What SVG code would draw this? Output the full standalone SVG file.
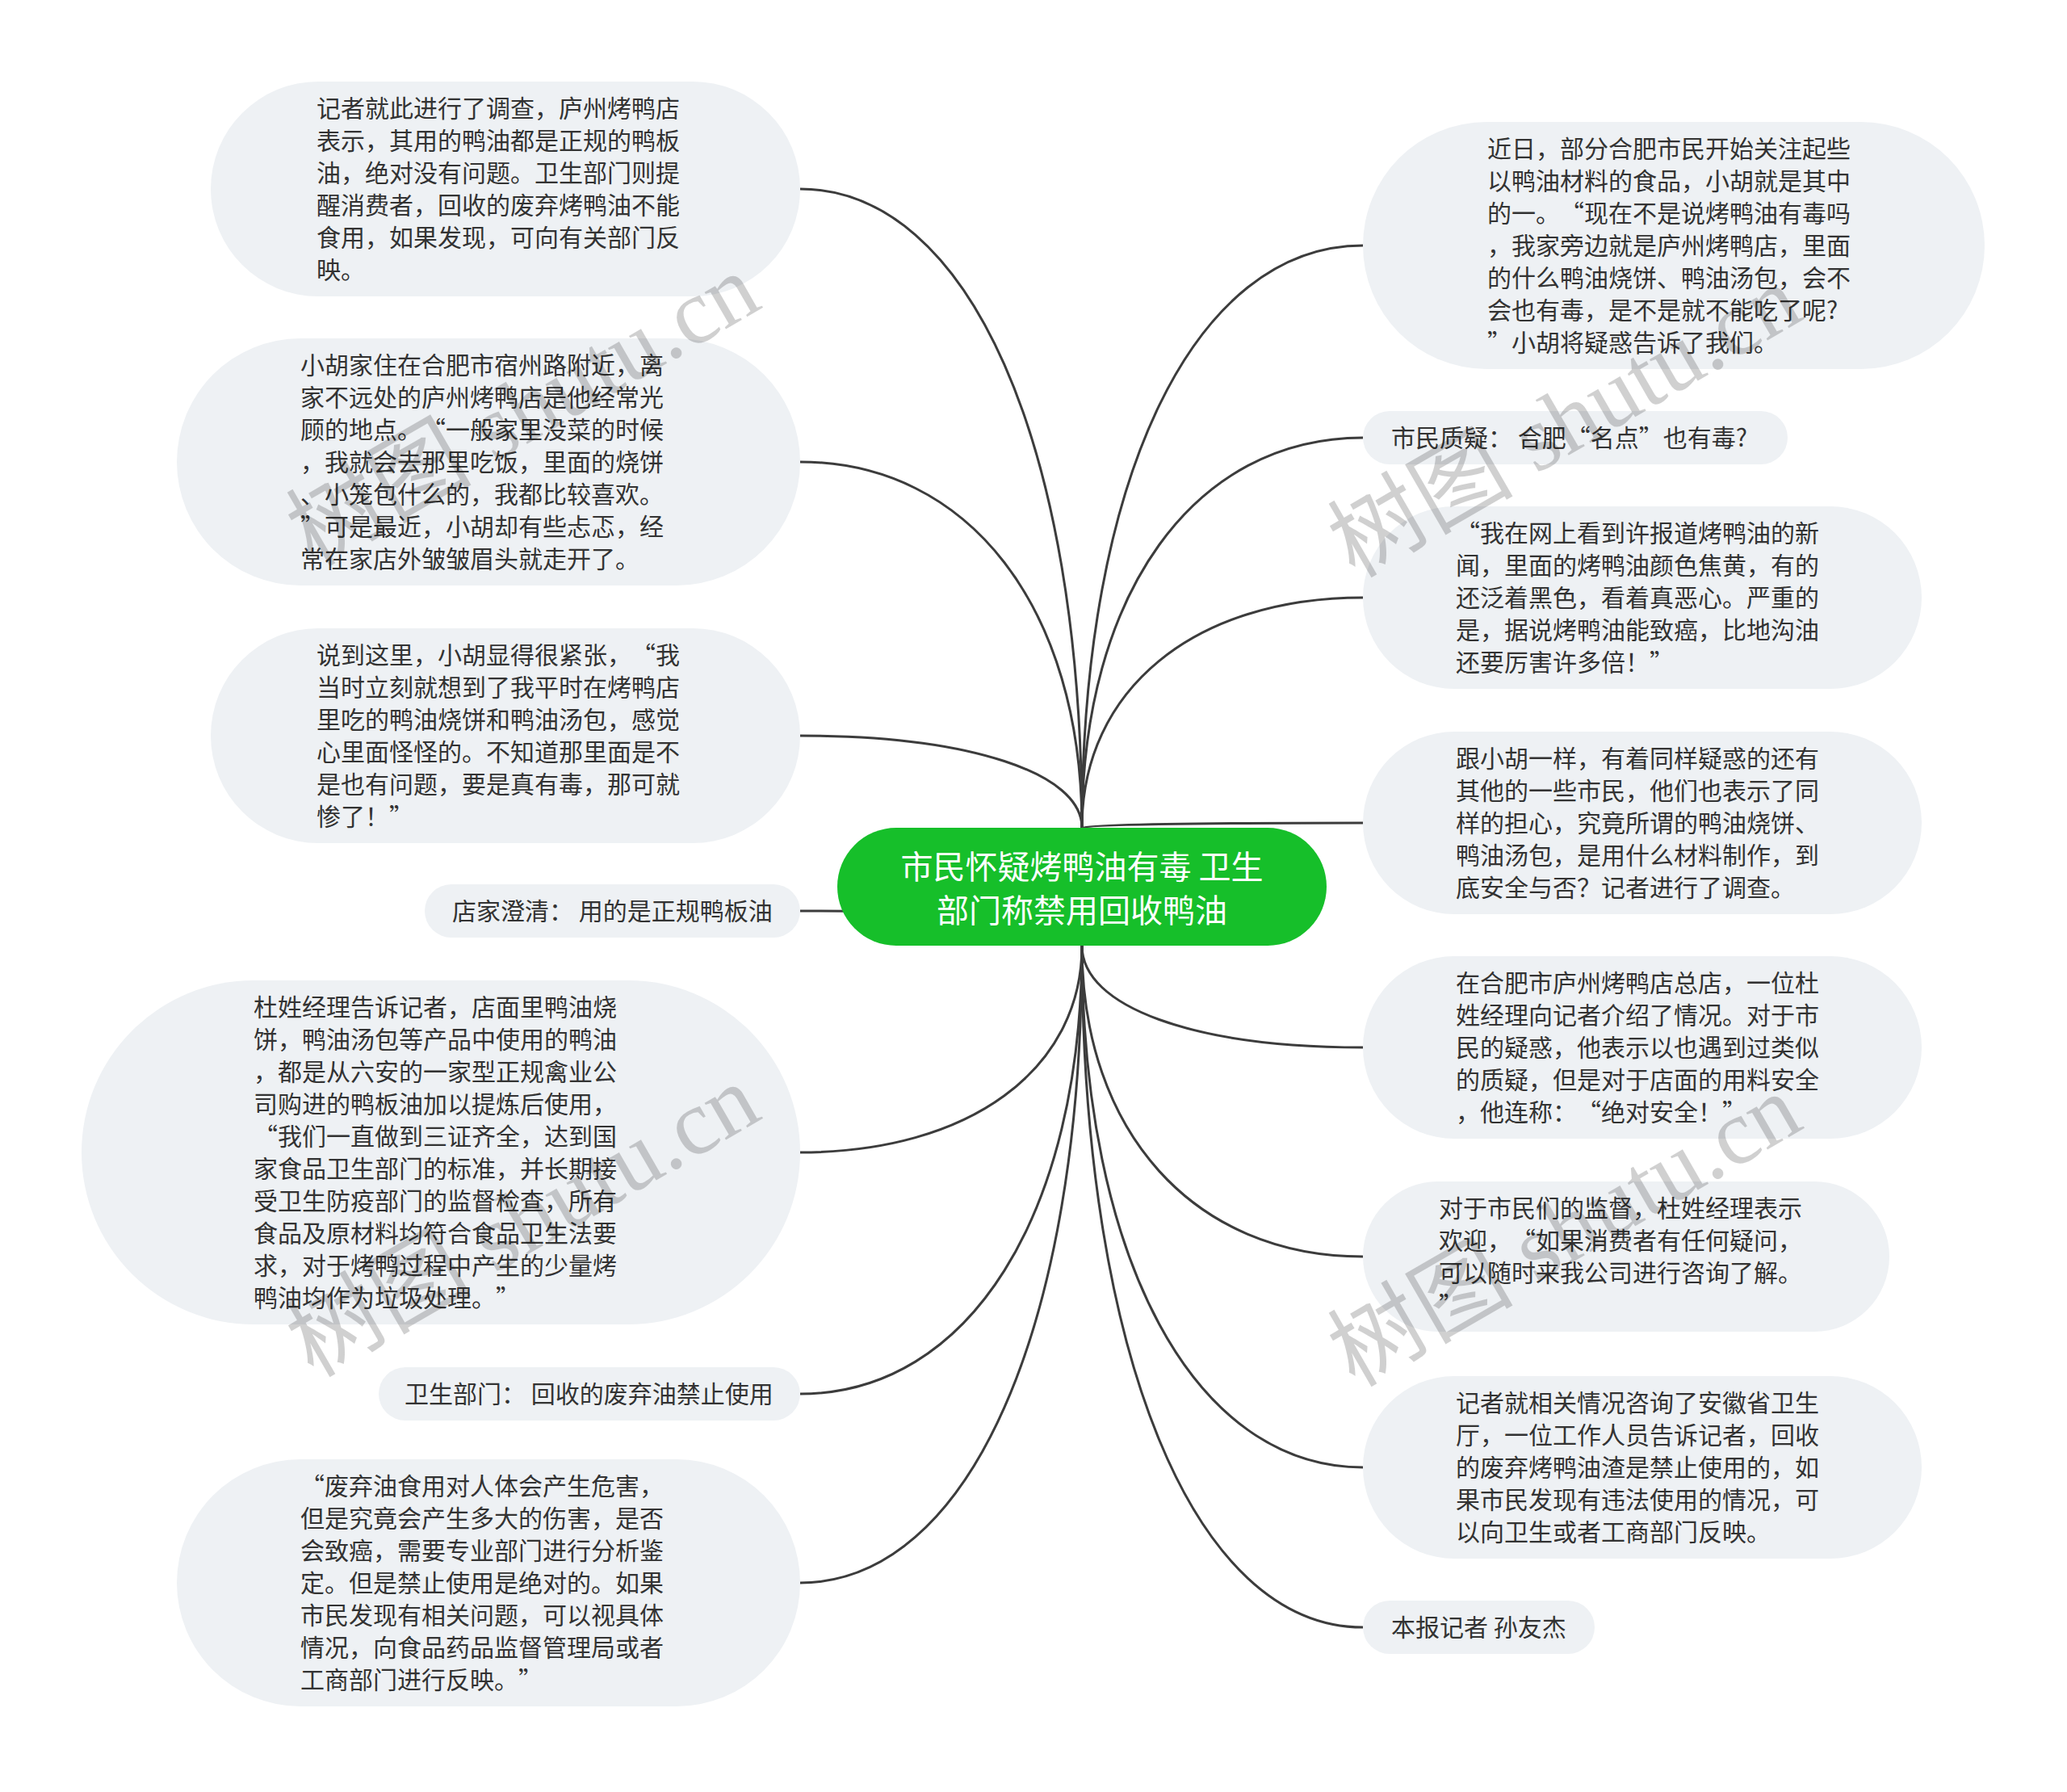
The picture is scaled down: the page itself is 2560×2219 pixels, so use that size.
<svg xmlns="http://www.w3.org/2000/svg" width="2560" height="2219" viewBox="0 0 2560 2219">
<style>
.pill{fill:#EEF1F4}
.t{font-family:"Noto Sans CJK SC","Noto Sans",sans-serif;font-size:30px;fill:#333333;text-spacing-trim:space-all}
.c{fill:none;stroke:#3c3c3c;stroke-width:3}
.ct{font-family:"Noto Sans CJK SC","Noto Sans",sans-serif;font-size:40px;fill:#ffffff;text-anchor:middle;text-spacing-trim:space-all}
.wm{font-family:"Liberation Serif","Noto Sans CJK SC",serif;font-size:115px;fill:#000000;opacity:0.18;text-anchor:middle;dominant-baseline:central}
</style>
<rect width="2560" height="2219" fill="#ffffff"/>
<g id="connectors">
<path class="c" d="M1340 1025 C1340 550 1200 234 991 234"/>
<path class="c" d="M1340 1025 C1340 753 1200 572 991 572"/>
<path class="c" d="M1340 1025 C1340 957 1200 911 991 911"/>
<path class="c" d="M1340 1171 C1340 1145 1200 1128 991 1128"/>
<path class="c" d="M1340 1171 C1340 1325 1200 1427 991 1427"/>
<path class="c" d="M1340 1171 C1340 1504 1200 1726 991 1726"/>
<path class="c" d="M1340 1171 C1340 1644 1200 1960 991 1960"/>
<path class="c" d="M1340 1025 C1340 592 1479 304 1688 304"/>
<path class="c" d="M1340 1025 C1340 735 1479 542 1688 542"/>
<path class="c" d="M1340 1025 C1340 854 1479 740 1688 740"/>
<path class="c" d="M1340 1025 C1340 1021 1479 1019 1688 1019"/>
<path class="c" d="M1340 1171 C1340 1247 1479 1297 1688 1297"/>
<path class="c" d="M1340 1171 C1340 1402 1479 1556 1688 1556"/>
<path class="c" d="M1340 1171 C1340 1559 1479 1817 1688 1817"/>
<path class="c" d="M1340 1171 C1340 1677 1479 2015 1688 2015"/>
</g>
<g id="center">
<rect x="1037" y="1025" width="606" height="146" rx="73" fill="#16BF2A"/>
<text class="ct"><tspan x="1340" y="1088">市民怀疑烤鸭油有毒 卫生</tspan><tspan x="1340" y="1142">部门称禁用回收鸭油</tspan></text>
</g>
<g id="L1">
<rect class="pill" x="261" y="101" width="730" height="266" rx="133"/>
<text class="t"><tspan x="392" y="145">记者就此进行了调查，庐州烤鸭店</tspan><tspan x="392" dy="40">表示，其用的鸭油都是正规的鸭板</tspan><tspan x="392" dy="40">油，绝对没有问题。卫生部门则提</tspan><tspan x="392" dy="40">醒消费者，回收的废弃烤鸭油不能</tspan><tspan x="392" dy="40">食用，如果发现，可向有关部门反</tspan><tspan x="392" dy="40">映。</tspan></text>
</g>
<g id="L2">
<rect class="pill" x="219" y="419" width="772" height="306" rx="153"/>
<text class="t"><tspan x="372" y="463">小胡家住在合肥市宿州路附近，离</tspan><tspan x="372" dy="40">家不远处的庐州烤鸭店是他经常光</tspan><tspan x="372" dy="40">顾的地点。“一般家里没菜的时候</tspan><tspan x="372" dy="40">，我就会去那里吃饭，里面的烧饼</tspan><tspan x="372" dy="40">、小笼包什么的，我都比较喜欢。</tspan><tspan x="372" dy="40">”可是最近，小胡却有些忐忑，经</tspan><tspan x="372" dy="40">常在家店外皱皱眉头就走开了。</tspan></text>
</g>
<g id="L3">
<rect class="pill" x="261" y="778" width="730" height="266" rx="133"/>
<text class="t"><tspan x="392" y="822">说到这里，小胡显得很紧张，“我</tspan><tspan x="392" dy="40">当时立刻就想到了我平时在烤鸭店</tspan><tspan x="392" dy="40">里吃的鸭油烧饼和鸭油汤包，感觉</tspan><tspan x="392" dy="40">心里面怪怪的。不知道那里面是不</tspan><tspan x="392" dy="40">是也有问题，要是真有毒，那可就</tspan><tspan x="392" dy="40">惨了！”</tspan></text>
</g>
<g id="L4">
<rect class="pill" x="526" y="1095" width="465" height="66" rx="33"/>
<text class="t" x="560" y="1139">店家澄清： 用的是正规鸭板油</text>
</g>
<g id="L5">
<rect class="pill" x="101" y="1214" width="890" height="426" rx="213"/>
<text class="t"><tspan x="314" y="1258">杜姓经理告诉记者，店面里鸭油烧</tspan><tspan x="314" dy="40">饼，鸭油汤包等产品中使用的鸭油</tspan><tspan x="314" dy="40">，都是从六安的一家型正规禽业公</tspan><tspan x="314" dy="40">司购进的鸭板油加以提炼后使用，</tspan><tspan x="314" dy="40">“我们一直做到三证齐全，达到国</tspan><tspan x="314" dy="40">家食品卫生部门的标准，并长期接</tspan><tspan x="314" dy="40">受卫生防疫部门的监督检查，所有</tspan><tspan x="314" dy="40">食品及原材料均符合食品卫生法要</tspan><tspan x="314" dy="40">求，对于烤鸭过程中产生的少量烤</tspan><tspan x="314" dy="40">鸭油均作为垃圾处理。”</tspan></text>
</g>
<g id="L6">
<rect class="pill" x="469" y="1693" width="522" height="66" rx="33"/>
<text class="t" x="501" y="1737">卫生部门： 回收的废弃油禁止使用</text>
</g>
<g id="L7">
<rect class="pill" x="219" y="1807" width="772" height="306" rx="153"/>
<text class="t"><tspan x="372" y="1851">“废弃油食用对人体会产生危害，</tspan><tspan x="372" dy="40">但是究竟会产生多大的伤害，是否</tspan><tspan x="372" dy="40">会致癌，需要专业部门进行分析鉴</tspan><tspan x="372" dy="40">定。但是禁止使用是绝对的。如果</tspan><tspan x="372" dy="40">市民发现有相关问题，可以视具体</tspan><tspan x="372" dy="40">情况，向食品药品监督管理局或者</tspan><tspan x="372" dy="40">工商部门进行反映。”</tspan></text>
</g>
<g id="R1">
<rect class="pill" x="1688" y="151" width="770" height="306" rx="153"/>
<text class="t"><tspan x="1842" y="195">近日，部分合肥市民开始关注起些</tspan><tspan x="1842" dy="40">以鸭油材料的食品，小胡就是其中</tspan><tspan x="1842" dy="40">的一。“现在不是说烤鸭油有毒吗</tspan><tspan x="1842" dy="40">，我家旁边就是庐州烤鸭店，里面</tspan><tspan x="1842" dy="40">的什么鸭油烧饼、鸭油汤包，会不</tspan><tspan x="1842" dy="40">会也有毒，是不是就不能吃了呢?</tspan><tspan x="1842" dy="40">”小胡将疑惑告诉了我们。</tspan></text>
</g>
<g id="R2">
<rect class="pill" x="1688" y="509" width="526" height="66" rx="33"/>
<text class="t" x="1723" y="553">市民质疑： 合肥“名点”也有毒?</text>
</g>
<g id="R3">
<rect class="pill" x="1688" y="627" width="692" height="226" rx="113"/>
<text class="t"><tspan x="1803" y="671">“我在网上看到许报道烤鸭油的新</tspan><tspan x="1803" dy="40">闻，里面的烤鸭油颜色焦黄，有的</tspan><tspan x="1803" dy="40">还泛着黑色，看着真恶心。严重的</tspan><tspan x="1803" dy="40">是，据说烤鸭油能致癌，比地沟油</tspan><tspan x="1803" dy="40">还要厉害许多倍！”</tspan></text>
</g>
<g id="R4">
<rect class="pill" x="1688" y="906" width="692" height="226" rx="113"/>
<text class="t"><tspan x="1803" y="950">跟小胡一样，有着同样疑惑的还有</tspan><tspan x="1803" dy="40">其他的一些市民，他们也表示了同</tspan><tspan x="1803" dy="40">样的担心，究竟所谓的鸭油烧饼、</tspan><tspan x="1803" dy="40">鸭油汤包，是用什么材料制作，到</tspan><tspan x="1803" dy="40">底安全与否？记者进行了调查。</tspan></text>
</g>
<g id="R5">
<rect class="pill" x="1688" y="1184" width="692" height="226" rx="113"/>
<text class="t"><tspan x="1803" y="1228">在合肥市庐州烤鸭店总店，一位杜</tspan><tspan x="1803" dy="40">姓经理向记者介绍了情况。对于市</tspan><tspan x="1803" dy="40">民的疑惑，他表示以也遇到过类似</tspan><tspan x="1803" dy="40">的质疑，但是对于店面的用料安全</tspan><tspan x="1803" dy="40">，他连称：“绝对安全！”</tspan></text>
</g>
<g id="R6">
<rect class="pill" x="1688" y="1463" width="652" height="186" rx="93"/>
<text class="t"><tspan x="1782" y="1507">对于市民们的监督，杜姓经理表示</tspan><tspan x="1782" dy="40">欢迎，“如果消费者有任何疑问，</tspan><tspan x="1782" dy="40">可以随时来我公司进行咨询了解。</tspan><tspan x="1782" dy="40">”</tspan></text>
</g>
<g id="R7">
<rect class="pill" x="1688" y="1704" width="692" height="226" rx="113"/>
<text class="t"><tspan x="1803" y="1748">记者就相关情况咨询了安徽省卫生</tspan><tspan x="1803" dy="40">厅，一位工作人员告诉记者，回收</tspan><tspan x="1803" dy="40">的废弃烤鸭油渣是禁止使用的，如</tspan><tspan x="1803" dy="40">果市民发现有违法使用的情况，可</tspan><tspan x="1803" dy="40">以向卫生或者工商部门反映。</tspan></text>
</g>
<g id="R8">
<rect class="pill" x="1688" y="1982" width="287" height="66" rx="33"/>
<text class="t" x="1723" y="2026">本报记者 孙友杰</text>
</g>
<g id="watermarks">
<text class="wm" x="648" y="508" transform="rotate(-30 648 508)">树图 shutu.cn</text>
<text class="wm" x="1938" y="522" transform="rotate(-30 1938 522)">树图 shutu.cn</text>
<text class="wm" x="648" y="1512" transform="rotate(-30 648 1512)">树图 shutu.cn</text>
<text class="wm" x="1938" y="1524" transform="rotate(-30 1938 1524)">树图 shutu.cn</text>
</g>
</svg>
